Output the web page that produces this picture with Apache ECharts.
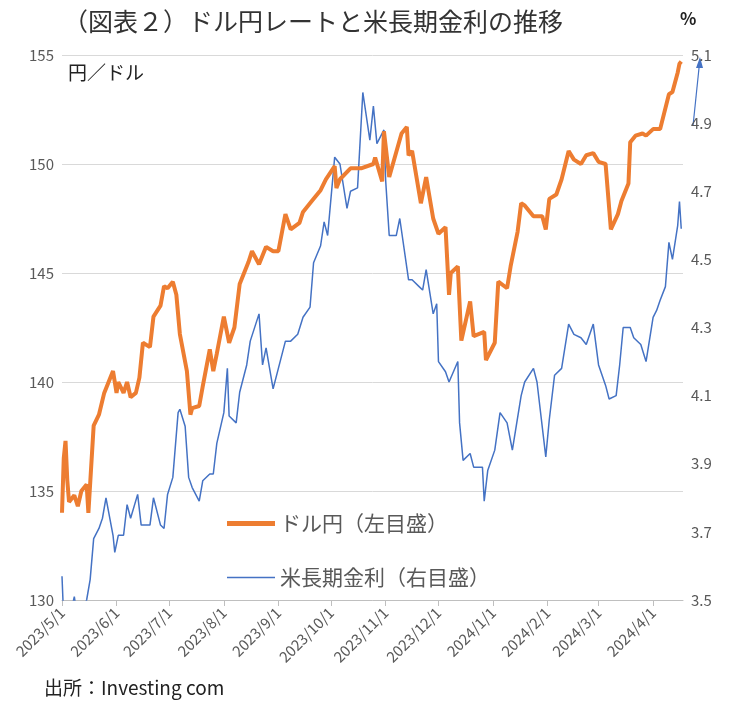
<!DOCTYPE html>
<html><head><meta charset="utf-8">
<script src="https://cdn.jsdelivr.net/npm/echarts@6/dist/echarts.min.js"></script>
<style>body{margin:0;background:#fff}#c{width:732px;height:712px}</style>
</head><body><div id="c"></div>
<script>
// ドル円 (円/ドル)
var usdjpy = [
['2023-05-01',134.0],['2023-05-02',136.5],['2023-05-03',137.3],['2023-05-04',135.5],['2023-05-05',134.5],
['2023-05-08',134.8],['2023-05-10',134.3],['2023-05-12',135.0],['2023-05-15',135.3],['2023-05-16',134.0],
['2023-05-19',138.0],['2023-05-22',138.5],['2023-05-25',139.5],['2023-05-30',140.5],['2023-06-01',139.5],
['2023-06-02',140.0],['2023-06-05',139.5],['2023-06-07',140.0],['2023-06-09',139.3],['2023-06-12',139.5],
['2023-06-14',140.2],['2023-06-16',141.8],['2023-06-20',141.6],['2023-06-22',143.0],['2023-06-26',143.5],
['2023-06-28',144.4],['2023-06-30',144.3],['2023-07-03',144.6],['2023-07-05',144.0],['2023-07-07',142.2],
['2023-07-11',140.5],['2023-07-13',138.5],['2023-07-14',138.8],['2023-07-18',138.9],['2023-07-20',139.8],
['2023-07-24',141.5],['2023-07-26',140.5],['2023-07-28',141.3],['2023-08-01',143.0],['2023-08-04',141.8],
['2023-08-07',142.5],['2023-08-10',144.5],['2023-08-15',145.5],['2023-08-17',146.0],['2023-08-21',145.4],
['2023-08-25',146.2],['2023-08-29',146.0],['2023-09-01',146.0],['2023-09-05',147.7],['2023-09-08',147.0],
['2023-09-13',147.3],['2023-09-15',147.8],['2023-09-20',148.3],['2023-09-25',148.8],['2023-09-28',149.3],
['2023-10-03',149.9],['2023-10-04',148.9],['2023-10-06',149.3],['2023-10-12',149.8],['2023-10-18',149.8],
['2023-10-25',150.0],['2023-10-26',150.3],['2023-10-30',149.2],['2023-10-31',151.5],['2023-11-03',149.4],
['2023-11-10',151.4],['2023-11-13',151.7],['2023-11-14',150.4],['2023-11-16',150.6],['2023-11-21',148.2],
['2023-11-24',149.4],['2023-11-28',147.5],['2023-12-01',146.8],['2023-12-05',147.1],['2023-12-07',144.0],
['2023-12-08',145.0],['2023-12-12',145.3],['2023-12-14',141.9],['2023-12-19',143.7],['2023-12-21',142.1],
['2023-12-27',142.3],['2023-12-28',141.0],['2024-01-02',141.8],['2024-01-04',144.6],['2024-01-05',144.6],
['2024-01-09',144.3],['2024-01-11',145.3],['2024-01-15',146.9],['2024-01-17',148.2],['2024-01-19',148.1],
['2024-01-24',147.6],['2024-01-29',147.6],['2024-01-31',147.0],['2024-02-02',148.4],['2024-02-06',148.6],
['2024-02-09',149.3],['2024-02-13',150.6],['2024-02-16',150.2],['2024-02-20',150.0],['2024-02-23',150.4],
['2024-02-27',150.5],['2024-03-01',150.1],['2024-03-05',150.0],['2024-03-07',148.0],['2024-03-08',147.0],
['2024-03-12',147.7],['2024-03-14',148.3],['2024-03-18',149.1],['2024-03-19',151.0],['2024-03-22',151.3],
['2024-03-26',151.4],['2024-03-28',151.3],['2024-04-01',151.6],['2024-04-05',151.6],['2024-04-10',153.2],
['2024-04-12',153.3],['2024-04-15',154.2],['2024-04-16',154.6],['2024-04-17',154.7]
];
// 米長期金利 (%)
var ust10y = [
['2023-05-01',3.57],['2023-05-02',3.44],['2023-05-03',3.34],['2023-05-04',3.37],['2023-05-05',3.44],
['2023-05-08',3.51],['2023-05-10',3.44],['2023-05-12',3.46],['2023-05-15',3.50],['2023-05-17',3.56],
['2023-05-19',3.68],['2023-05-22',3.71],['2023-05-24',3.74],['2023-05-26',3.80],['2023-05-30',3.69],
['2023-05-31',3.64],['2023-06-02',3.69],['2023-06-05',3.69],['2023-06-07',3.78],['2023-06-09',3.74],
['2023-06-13',3.81],['2023-06-15',3.72],['2023-06-20',3.72],['2023-06-22',3.80],['2023-06-26',3.72],
['2023-06-28',3.71],['2023-06-30',3.81],['2023-07-03',3.86],['2023-07-06',4.05],['2023-07-07',4.06],
['2023-07-10',4.01],['2023-07-12',3.86],['2023-07-14',3.83],['2023-07-18',3.79],['2023-07-20',3.85],
['2023-07-24',3.87],['2023-07-26',3.87],['2023-07-28',3.96],['2023-08-01',4.05],['2023-08-03',4.18],
['2023-08-04',4.04],['2023-08-08',4.02],['2023-08-10',4.11],['2023-08-14',4.19],['2023-08-16',4.26],
['2023-08-21',4.34],['2023-08-23',4.19],['2023-08-25',4.24],['2023-08-29',4.12],['2023-09-01',4.18],
['2023-09-05',4.26],['2023-09-08',4.26],['2023-09-12',4.28],['2023-09-15',4.33],['2023-09-19',4.36],
['2023-09-21',4.49],['2023-09-25',4.54],['2023-09-27',4.61],['2023-09-29',4.57],['2023-10-03',4.80],
['2023-10-06',4.78],['2023-10-10',4.65],['2023-10-12',4.70],['2023-10-16',4.71],['2023-10-19',4.99],
['2023-10-23',4.85],['2023-10-25',4.95],['2023-10-27',4.84],['2023-10-31',4.88],['2023-11-01',4.73],
['2023-11-03',4.57],['2023-11-07',4.57],['2023-11-09',4.62],['2023-11-14',4.44],['2023-11-16',4.44],
['2023-11-20',4.42],['2023-11-22',4.41],['2023-11-24',4.47],['2023-11-28',4.34],['2023-11-30',4.37],
['2023-12-01',4.20],['2023-12-05',4.17],['2023-12-07',4.14],['2023-12-12',4.20],['2023-12-13',4.02],
['2023-12-15',3.91],['2023-12-19',3.93],['2023-12-21',3.89],['2023-12-26',3.89],['2023-12-27',3.79],
['2023-12-29',3.88],['2024-01-02',3.94],['2024-01-05',4.05],['2024-01-09',4.02],['2024-01-12',3.94],
['2024-01-17',4.10],['2024-01-19',4.14],['2024-01-24',4.18],['2024-01-26',4.14],['2024-01-31',3.92],
['2024-02-02',4.03],['2024-02-05',4.16],['2024-02-09',4.18],['2024-02-13',4.31],['2024-02-16',4.28],
['2024-02-20',4.27],['2024-02-23',4.25],['2024-02-27',4.31],['2024-03-01',4.19],['2024-03-05',4.13],
['2024-03-07',4.09],['2024-03-11',4.10],['2024-03-13',4.19],['2024-03-15',4.30],['2024-03-19',4.30],
['2024-03-21',4.27],['2024-03-25',4.25],['2024-03-28',4.20],['2024-04-01',4.33],['2024-04-03',4.35],
['2024-04-05',4.38],['2024-04-08',4.42],['2024-04-10',4.55],['2024-04-12',4.50],['2024-04-15',4.60],
['2024-04-16',4.67],['2024-04-17',4.59]
];
var monthTicks = ['2023-05-01','2023-06-01','2023-07-01','2023-08-01','2023-09-01','2023-10-01',
  '2023-11-01','2023-12-01','2024-01-01','2024-02-01','2024-03-01','2024-04-01'];

function ts(d){ return Date.UTC(+d.slice(0,4), +d.slice(5,7) - 1, +d.slice(8,10)); }
var tickTimes = monthTicks.map(ts);
function toXY(arr){ return arr.map(function(p){ return [ts(p[0]), p[1]]; }); }
var font = '"Noto Sans CJK JP", sans-serif';
var legendText = {fontSize: 21, color: '#595959', fontFamily: font};
var chart = echarts.init(document.getElementById('c'));
chart.setOption({
  animation: false,
  textStyle: {fontFamily: font},
  title: {text: '（図表２）ドル円レートと米長期金利の推移', left: 58, top: 4,
    textStyle: {fontSize: 25, fontWeight: 'normal', color: '#333', fontFamily: font}},
  grid: {left: 62, right: 49, top: 55, bottom: 112},
  legend: [
    {left: 222, top: 508, itemWidth: 48, itemHeight: 5, icon: 'rect', textStyle: legendText,
      data: ['ドル円（左目盛）']},
    {left: 222, top: 562, itemWidth: 48, itemHeight: 1.5, icon: 'rect', textStyle: legendText,
      data: ['米長期金利（右目盛）']}
  ],
  xAxis: {type: 'value', min: ts('2023-05-01'), max: ts('2024-04-18'),
    axisLine: {onZero: false, lineStyle: {color: '#bfbfbf'}},
    axisTick: {show: true, customValues: tickTimes, length: 6, lineStyle: {color: '#bfbfbf'}},
    splitLine: {show: false},
    axisLabel: {customValues: tickTimes, rotate: 45, fontSize: 15, color: '#595959', margin: 10,
      formatter: function(v){ var d = new Date(v); return d.getUTCFullYear() + '/' + (d.getUTCMonth()+1) + '/' + d.getUTCDate(); }}},
  yAxis: [
    {type: 'value', min: 130, max: 155, interval: 5,
      axisLabel: {fontSize: 15, color: '#595959'},
      axisLine: {show: false}, axisTick: {show: false},
      splitLine: {lineStyle: {color: '#d9d9d9'}}},
    {type: 'value', min: 3.5, max: 5.1, interval: 0.2,
      axisLabel: {fontSize: 15, color: '#595959', formatter: function(v){ return v.toFixed(1); }},
      axisLine: {show: false}, axisTick: {show: false}, splitLine: {show: false}}
  ],
  series: [
    {name: 'ドル円（左目盛）', type: 'line', yAxisIndex: 0, data: toXY(usdjpy), showSymbol: false,
      lineStyle: {color: '#ED7D31', width: 4}, itemStyle: {color: '#ED7D31'}, z: 3},
    {name: '米長期金利（右目盛）', type: 'line', yAxisIndex: 1, data: toXY(ust10y), showSymbol: false,
      lineStyle: {color: '#4472C4', width: 1.5}, itemStyle: {color: '#4472C4'}, z: 2}
  ],
  graphic: [
    {type: 'text', left: 68, top: 63, style: {text: '円／ドル', fill: '#222', font: '19px ' + font}},
    {type: 'text', left: 680, top: 10, style: {text: '%', fill: '#222', font: 'bold 17px ' + font}},
    {type: 'text', left: 44, top: 678, style: {text: '出所：Investing com', fill: '#222', font: '19px ' + font}},
    {type: 'line', shape: {x1: 693, y1: 126, x2: 699, y2: 68}, style: {stroke: '#4472C4', lineWidth: 1.2}},
    {type: 'polygon', shape: {points: [[700, 57], [696, 68], [703, 68]]}, style: {fill: '#4472C4'}}
  ]
});
</script></body></html>
